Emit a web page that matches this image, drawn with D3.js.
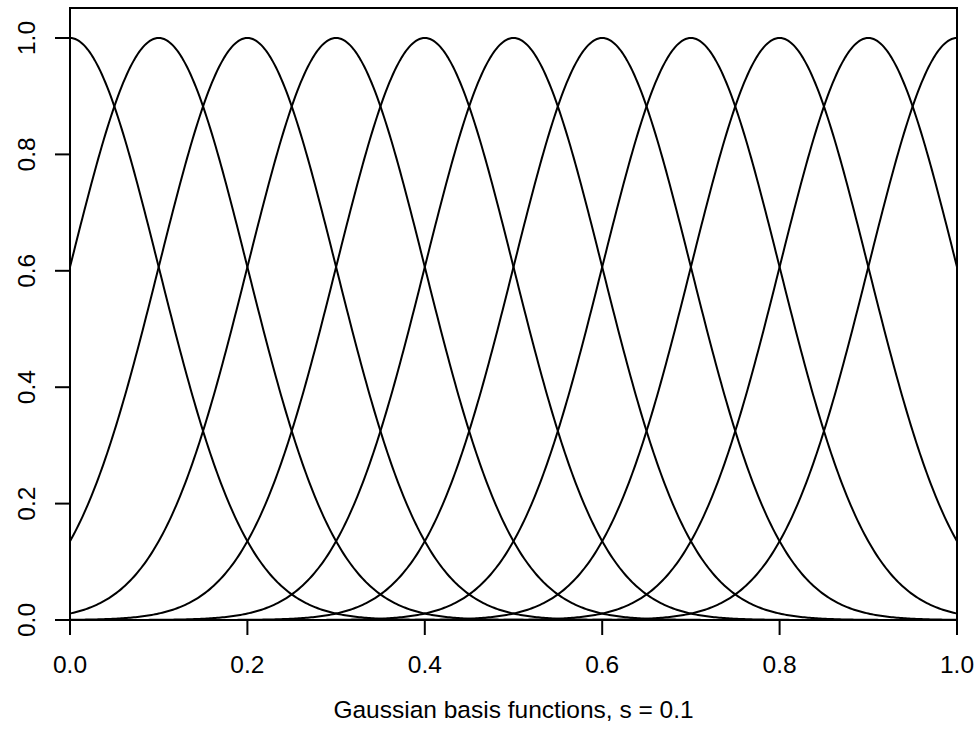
<!DOCTYPE html>
<html><head><meta charset="utf-8">
<script src="https://cdn.jsdelivr.net/npm/d3@7"></script>
<style>body{margin:0;background:#fff}svg{display:block}text{font-family:"Liberation Sans",Arial,sans-serif;fill:#000}</style>
</head><body>
<script>
// Basis function centres and width (from the title)
const centers = [0.0, 0.1, 0.2, 0.3, 0.4, 0.5, 0.6, 0.7, 0.8, 0.9, 1.0];
const widthS = [0.1];
const xTicks = [0.0, 0.2, 0.4, 0.6, 0.8, 1.0];
const yTicks = [0.0, 0.2, 0.4, 0.6, 0.8, 1.0];
const xLabel = ["Gaussian basis functions, s = 0.1"];
const gridX = d3.range(0, 1.0001, 0.002);

const W = 976, H = 738;
const svg = d3.select("body").append("svg").attr("width", W).attr("height", H);
const x = d3.scaleLinear().domain([0, 1]).range([70, 957]);
const y = d3.scaleLinear().domain([0, 1]).range([620, 38]);
const frameTop = 8;
const fs = 24.5;

const line = d3.line().x(d => x(d[0])).y(d => y(d[1]));
const s = widthS[0];
centers.forEach(c => {
  const pts = gridX.map(t => [t, Math.exp(-((t - c) ** 2) / (2 * s * s))]);
  svg.append("path").attr("d", line(pts)).attr("fill", "none")
    .attr("stroke", "#000").attr("stroke-width", 2);
});

// frame
svg.append("rect").attr("x", 70).attr("y", frameTop).attr("width", 957 - 70).attr("height", 620 - frameTop)
  .attr("fill", "none").attr("stroke", "#000").attr("stroke-width", 2);

// x axis
const gx = svg.append("g");
xTicks.forEach(t => {
  gx.append("line").attr("x1", x(t)).attr("x2", x(t)).attr("y1", 620).attr("y2", 635)
    .attr("stroke", "#000").attr("stroke-width", 2);
  gx.append("text").attr("x", x(t)).attr("y", 673).attr("text-anchor", "middle")
    .attr("font-size", fs).text(t.toFixed(1));
});
// y axis
const gy = svg.append("g");
yTicks.forEach(t => {
  gy.append("line").attr("x1", 55).attr("x2", 70).attr("y1", y(t)).attr("y2", y(t))
    .attr("stroke", "#000").attr("stroke-width", 2);
  gy.append("text").attr("transform", `translate(35,${y(t)}) rotate(-90)`)
    .attr("text-anchor", "middle").attr("font-size", fs).text(t.toFixed(1));
});
svg.append("text").attr("x", (70 + 957) / 2).attr("y", 718).attr("text-anchor", "middle")
  .attr("font-size", fs).text(xLabel[0]);
</script>
</body></html>
